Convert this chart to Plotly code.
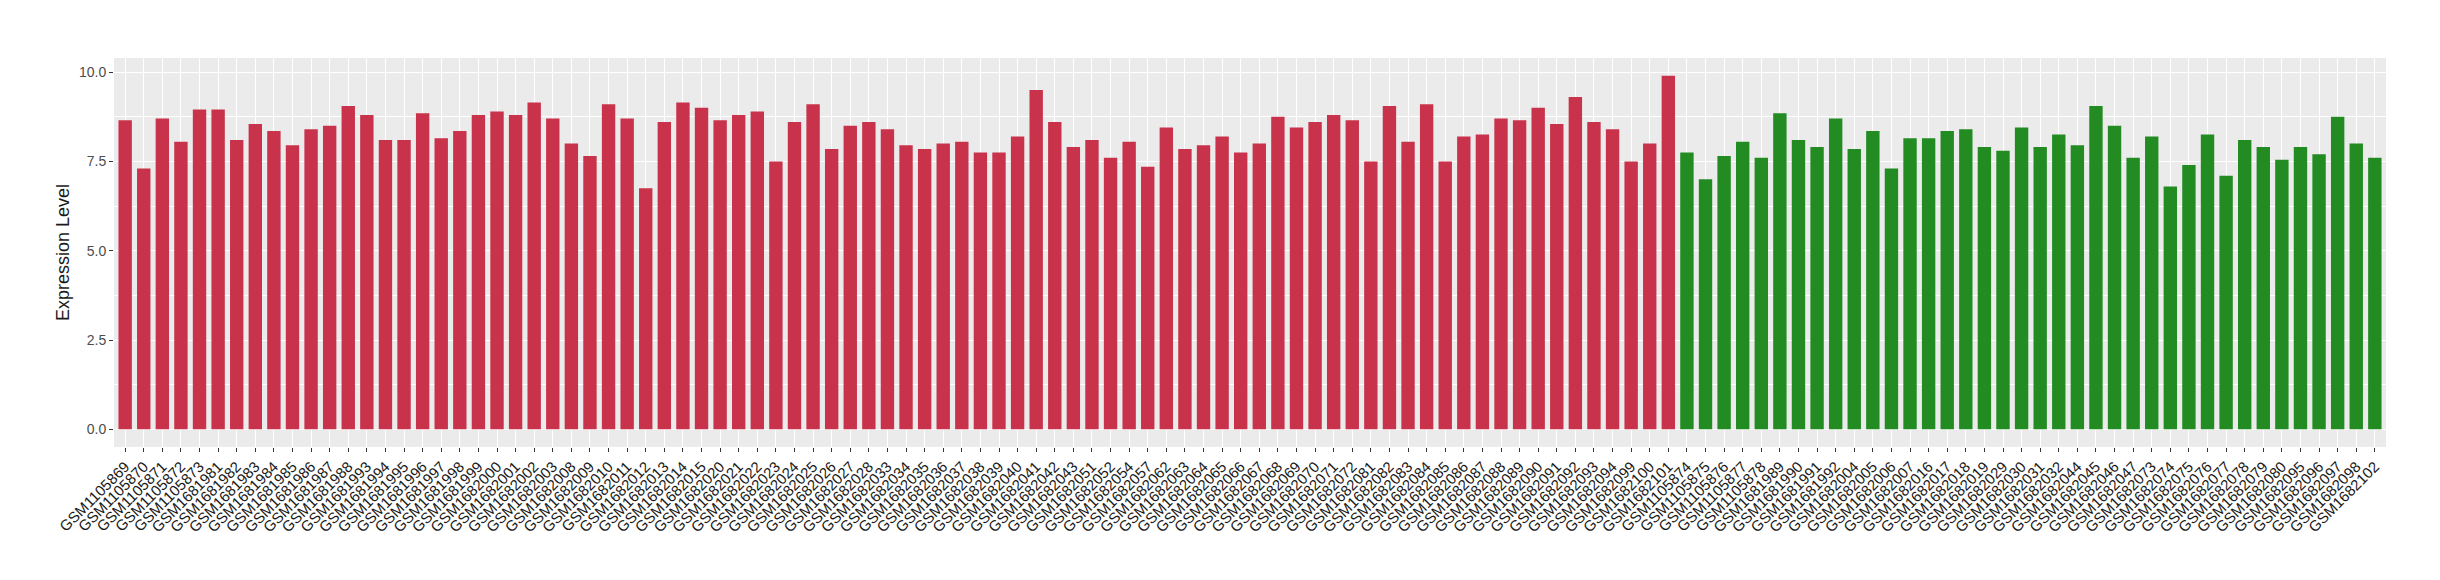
import plotly.graph_objects as go

red_samples = [
    "GSM1105869", "GSM1105870", "GSM1105871", "GSM1105872", "GSM1105873",
    "GSM1681981", "GSM1681982", "GSM1681983", "GSM1681984", "GSM1681985",
    "GSM1681986", "GSM1681987", "GSM1681988", "GSM1681993", "GSM1681994",
    "GSM1681995", "GSM1681996", "GSM1681997", "GSM1681998", "GSM1681999",
    "GSM1682000", "GSM1682001", "GSM1682002", "GSM1682003", "GSM1682008",
    "GSM1682009", "GSM1682010", "GSM1682011", "GSM1682012", "GSM1682013",
    "GSM1682014", "GSM1682015", "GSM1682020", "GSM1682021", "GSM1682022",
    "GSM1682023", "GSM1682024", "GSM1682025", "GSM1682026", "GSM1682027",
    "GSM1682028", "GSM1682033", "GSM1682034", "GSM1682035", "GSM1682036",
    "GSM1682037", "GSM1682038", "GSM1682039", "GSM1682040", "GSM1682041",
    "GSM1682042", "GSM1682043", "GSM1682051", "GSM1682052", "GSM1682054",
    "GSM1682057", "GSM1682062", "GSM1682063", "GSM1682064", "GSM1682065",
    "GSM1682066", "GSM1682067", "GSM1682068", "GSM1682069", "GSM1682070",
    "GSM1682071", "GSM1682072", "GSM1682081", "GSM1682082", "GSM1682083",
    "GSM1682084", "GSM1682085", "GSM1682086", "GSM1682087", "GSM1682088",
    "GSM1682089", "GSM1682090", "GSM1682091", "GSM1682092", "GSM1682093",
    "GSM1682094", "GSM1682099", "GSM1682100", "GSM1682101",
]
red_values = [
    8.65, 7.3, 8.7, 8.05, 8.95, 8.95, 8.1, 8.55, 8.35, 7.95,
    8.4, 8.5, 9.05, 8.8, 8.1, 8.1, 8.85, 8.15, 8.35, 8.8,
    8.9, 8.8, 9.15, 8.7, 8.0, 7.65, 9.1, 8.7, 6.75, 8.6,
    9.15, 9.0, 8.65, 8.8, 8.9, 7.5, 8.6, 9.1, 7.85, 8.5,
    8.6, 8.4, 7.95, 7.85, 8.0, 8.05, 7.75, 7.75, 8.2, 9.5,
    8.6, 7.9, 8.1, 7.6, 8.05, 7.35, 8.45, 7.85, 7.95, 8.2,
    7.75, 8.0, 8.75, 8.45, 8.6, 8.8, 8.65, 7.5, 9.05, 8.05,
    9.1, 7.5, 8.2, 8.25, 8.7, 8.65, 9.0, 8.55, 9.3, 8.6,
    8.4, 7.5, 8.0, 9.9,
]

green_samples = [
    "GSM1105874", "GSM1105875", "GSM1105876", "GSM1105877", "GSM1105878",
    "GSM1681989", "GSM1681990", "GSM1681991", "GSM1681992", "GSM1682004",
    "GSM1682005", "GSM1682006", "GSM1682007", "GSM1682016", "GSM1682017",
    "GSM1682018", "GSM1682019", "GSM1682029", "GSM1682030", "GSM1682031",
    "GSM1682032", "GSM1682044", "GSM1682045", "GSM1682046", "GSM1682047",
    "GSM1682073", "GSM1682074", "GSM1682075", "GSM1682076", "GSM1682077",
    "GSM1682078", "GSM1682079", "GSM1682080", "GSM1682095", "GSM1682096",
    "GSM1682097", "GSM1682098", "GSM1682102",
]
green_values = [
    7.75, 7.0, 7.65, 8.05, 7.6, 8.85, 8.1, 7.9, 8.7, 7.85,
    8.35, 7.3, 8.15, 8.15, 8.35, 8.4, 7.9, 7.8, 8.45, 7.9,
    8.25, 7.95, 9.05, 8.5, 7.6, 8.2, 6.8, 7.4, 8.25, 7.1,
    8.1, 7.9, 7.55, 7.9, 7.7, 8.75, 8.0, 7.6,
]

red_color = "#C8324A"
green_color = "#228B22"

fig = go.Figure()
fig.add_trace(go.Bar(x=red_samples, y=red_values, marker=dict(color=red_color, line=dict(width=0)),
                     showlegend=False))
fig.add_trace(go.Bar(x=green_samples, y=green_values, marker=dict(color=green_color, line=dict(width=0)),
                     showlegend=False))

all_samples = red_samples + green_samples
fig.update_layout(
    width=2440, height=580,
    margin=dict(l=106, r=62, t=50, b=141),
    paper_bgcolor="white",
    plot_bgcolor="#EBEBEB",
    bargap=0.28,
    barmode="overlay",
    font=dict(family="Liberation Sans, Arial, sans-serif", color="#1a1a1a"),
    xaxis=dict(
        categoryorder="array", categoryarray=all_samples,
        tickangle=-45, tickfont=dict(size=15, color="#1a1a1a"),
        showgrid=True, gridcolor="white", gridwidth=1.2,
        ticks="outside", ticklen=4, tickcolor="#333333",
        zeroline=False, showline=False,
        range=[-0.6, len(all_samples) - 0.4],
    ),
    yaxis=dict(
        range=[-0.495, 10.395],
        tickvals=[0, 2.5, 5, 7.5, 10], tickformat=".1f",
        tickfont=dict(size=14, color="#4d4d4d"),
        showgrid=True, gridcolor="white", gridwidth=1.2,
        minor=dict(tickvals=[1.25, 3.75, 6.25, 8.75], showgrid=True, gridcolor="white", gridwidth=0.6),
        ticks="outside", ticklen=4, tickcolor="#333333",
        zeroline=False, showline=False,
        title=dict(text="Expression Level", font=dict(size=18, color="#1a1a1a"), standoff=4),
    ),
)

fig.write_html("out.html")
